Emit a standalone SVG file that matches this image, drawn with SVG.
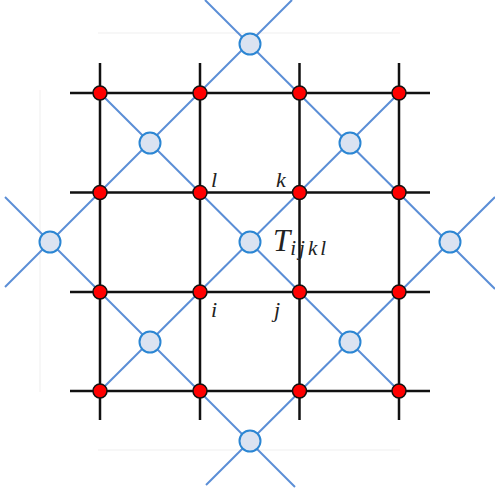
<svg xmlns="http://www.w3.org/2000/svg" width="495" height="498" viewBox="0 0 495 498">
<style>
.faint{stroke:#f4f4f4;stroke-width:1.5;fill:none}
.grid{stroke:#111;stroke-width:2.5;fill:none}
.bond{stroke:#5b8ed6;stroke-width:2;fill:none}
.red{fill:#ff0000;stroke:#111;stroke-width:1.5}
.blue{fill:#dbe3f1;stroke:#2b86d3;stroke-width:2}
.lbl{font-family:"Liberation Serif",serif;font-style:italic;fill:#222}
</style>
<rect width="495" height="498" fill="#fff"/>
<g id="faint">
<line class="faint" x1="98" y1="33" x2="400" y2="33"/>
<line class="faint" x1="98" y1="450" x2="400" y2="450"/>
<line class="faint" x1="40" y1="90" x2="40" y2="392"/>
</g>
<g id="connectors">
<g id="grid-lines">
<line class="grid" x1="70" y1="93" x2="430" y2="93"/>
<line class="grid" x1="70" y1="192.5" x2="430" y2="192.5"/>
<line class="grid" x1="70" y1="292" x2="430" y2="292"/>
<line class="grid" x1="70" y1="391" x2="430" y2="391"/>
<line class="grid" x1="100" y1="63" x2="100" y2="420"/>
<line class="grid" x1="200" y1="63" x2="200" y2="420"/>
<line class="grid" x1="299.5" y1="63" x2="299.5" y2="420"/>
<line class="grid" x1="399" y1="63" x2="399" y2="420"/>
</g>
<g id="bonds">
<line class="bond" x1="5" y1="197" x2="295" y2="487"/>
<line class="bond" x1="100" y1="93" x2="399" y2="391"/>
<line class="bond" x1="205" y1="0" x2="495" y2="289"/>
<line class="bond" x1="5" y1="287" x2="292" y2="0"/>
<line class="bond" x1="100" y1="391" x2="399" y2="93"/>
<line class="bond" x1="206" y1="485" x2="495" y2="197"/>
</g>
</g>
<g id="tensors">
<circle id="t1" class="blue" cx="250" cy="44" r="10.5"/>
<circle id="t2" class="blue" cx="150" cy="143" r="10.5"/>
<circle id="t3" class="blue" cx="350" cy="143" r="10.5"/>
<circle id="t4" class="blue" cx="50" cy="242" r="10.5"/>
<circle id="t5" class="blue" cx="250" cy="242" r="10.5"/>
<circle id="t6" class="blue" cx="450" cy="242" r="10.5"/>
<circle id="t7" class="blue" cx="150" cy="342" r="10.5"/>
<circle id="t8" class="blue" cx="350" cy="342" r="10.5"/>
<circle id="t9" class="blue" cx="250" cy="441" r="10.5"/>
</g>
<g id="sites">
<circle class="red" cx="100" cy="93" r="7"/>
<circle class="red" cx="200" cy="93" r="7"/>
<circle class="red" cx="299.5" cy="93" r="7"/>
<circle class="red" cx="399" cy="93" r="7"/>
<circle class="red" cx="100" cy="192.5" r="7"/>
<circle class="red" cx="200" cy="192.5" r="7"/>
<circle class="red" cx="299.5" cy="192.5" r="7"/>
<circle class="red" cx="399" cy="192.5" r="7"/>
<circle class="red" cx="100" cy="292" r="7"/>
<circle class="red" cx="200" cy="292" r="7"/>
<circle class="red" cx="299.5" cy="292" r="7"/>
<circle class="red" cx="399" cy="292" r="7"/>
<circle class="red" cx="100" cy="391" r="7"/>
<circle class="red" cx="200" cy="391" r="7"/>
<circle class="red" cx="299.5" cy="391" r="7"/>
<circle class="red" cx="399" cy="391" r="7"/>
</g>
<g id="labels">
<text class="lbl" x="211" y="187" font-size="22">l</text>
<text class="lbl" x="276" y="187" font-size="22">k</text>
<text class="lbl" x="273" y="251" font-size="31">T<tspan font-size="21" dy="4" letter-spacing="3">ijkl</tspan></text>
<text class="lbl" x="211" y="317" font-size="22">i</text>
<text class="lbl" x="274" y="317" font-size="22">j</text>
</g>
</svg>
